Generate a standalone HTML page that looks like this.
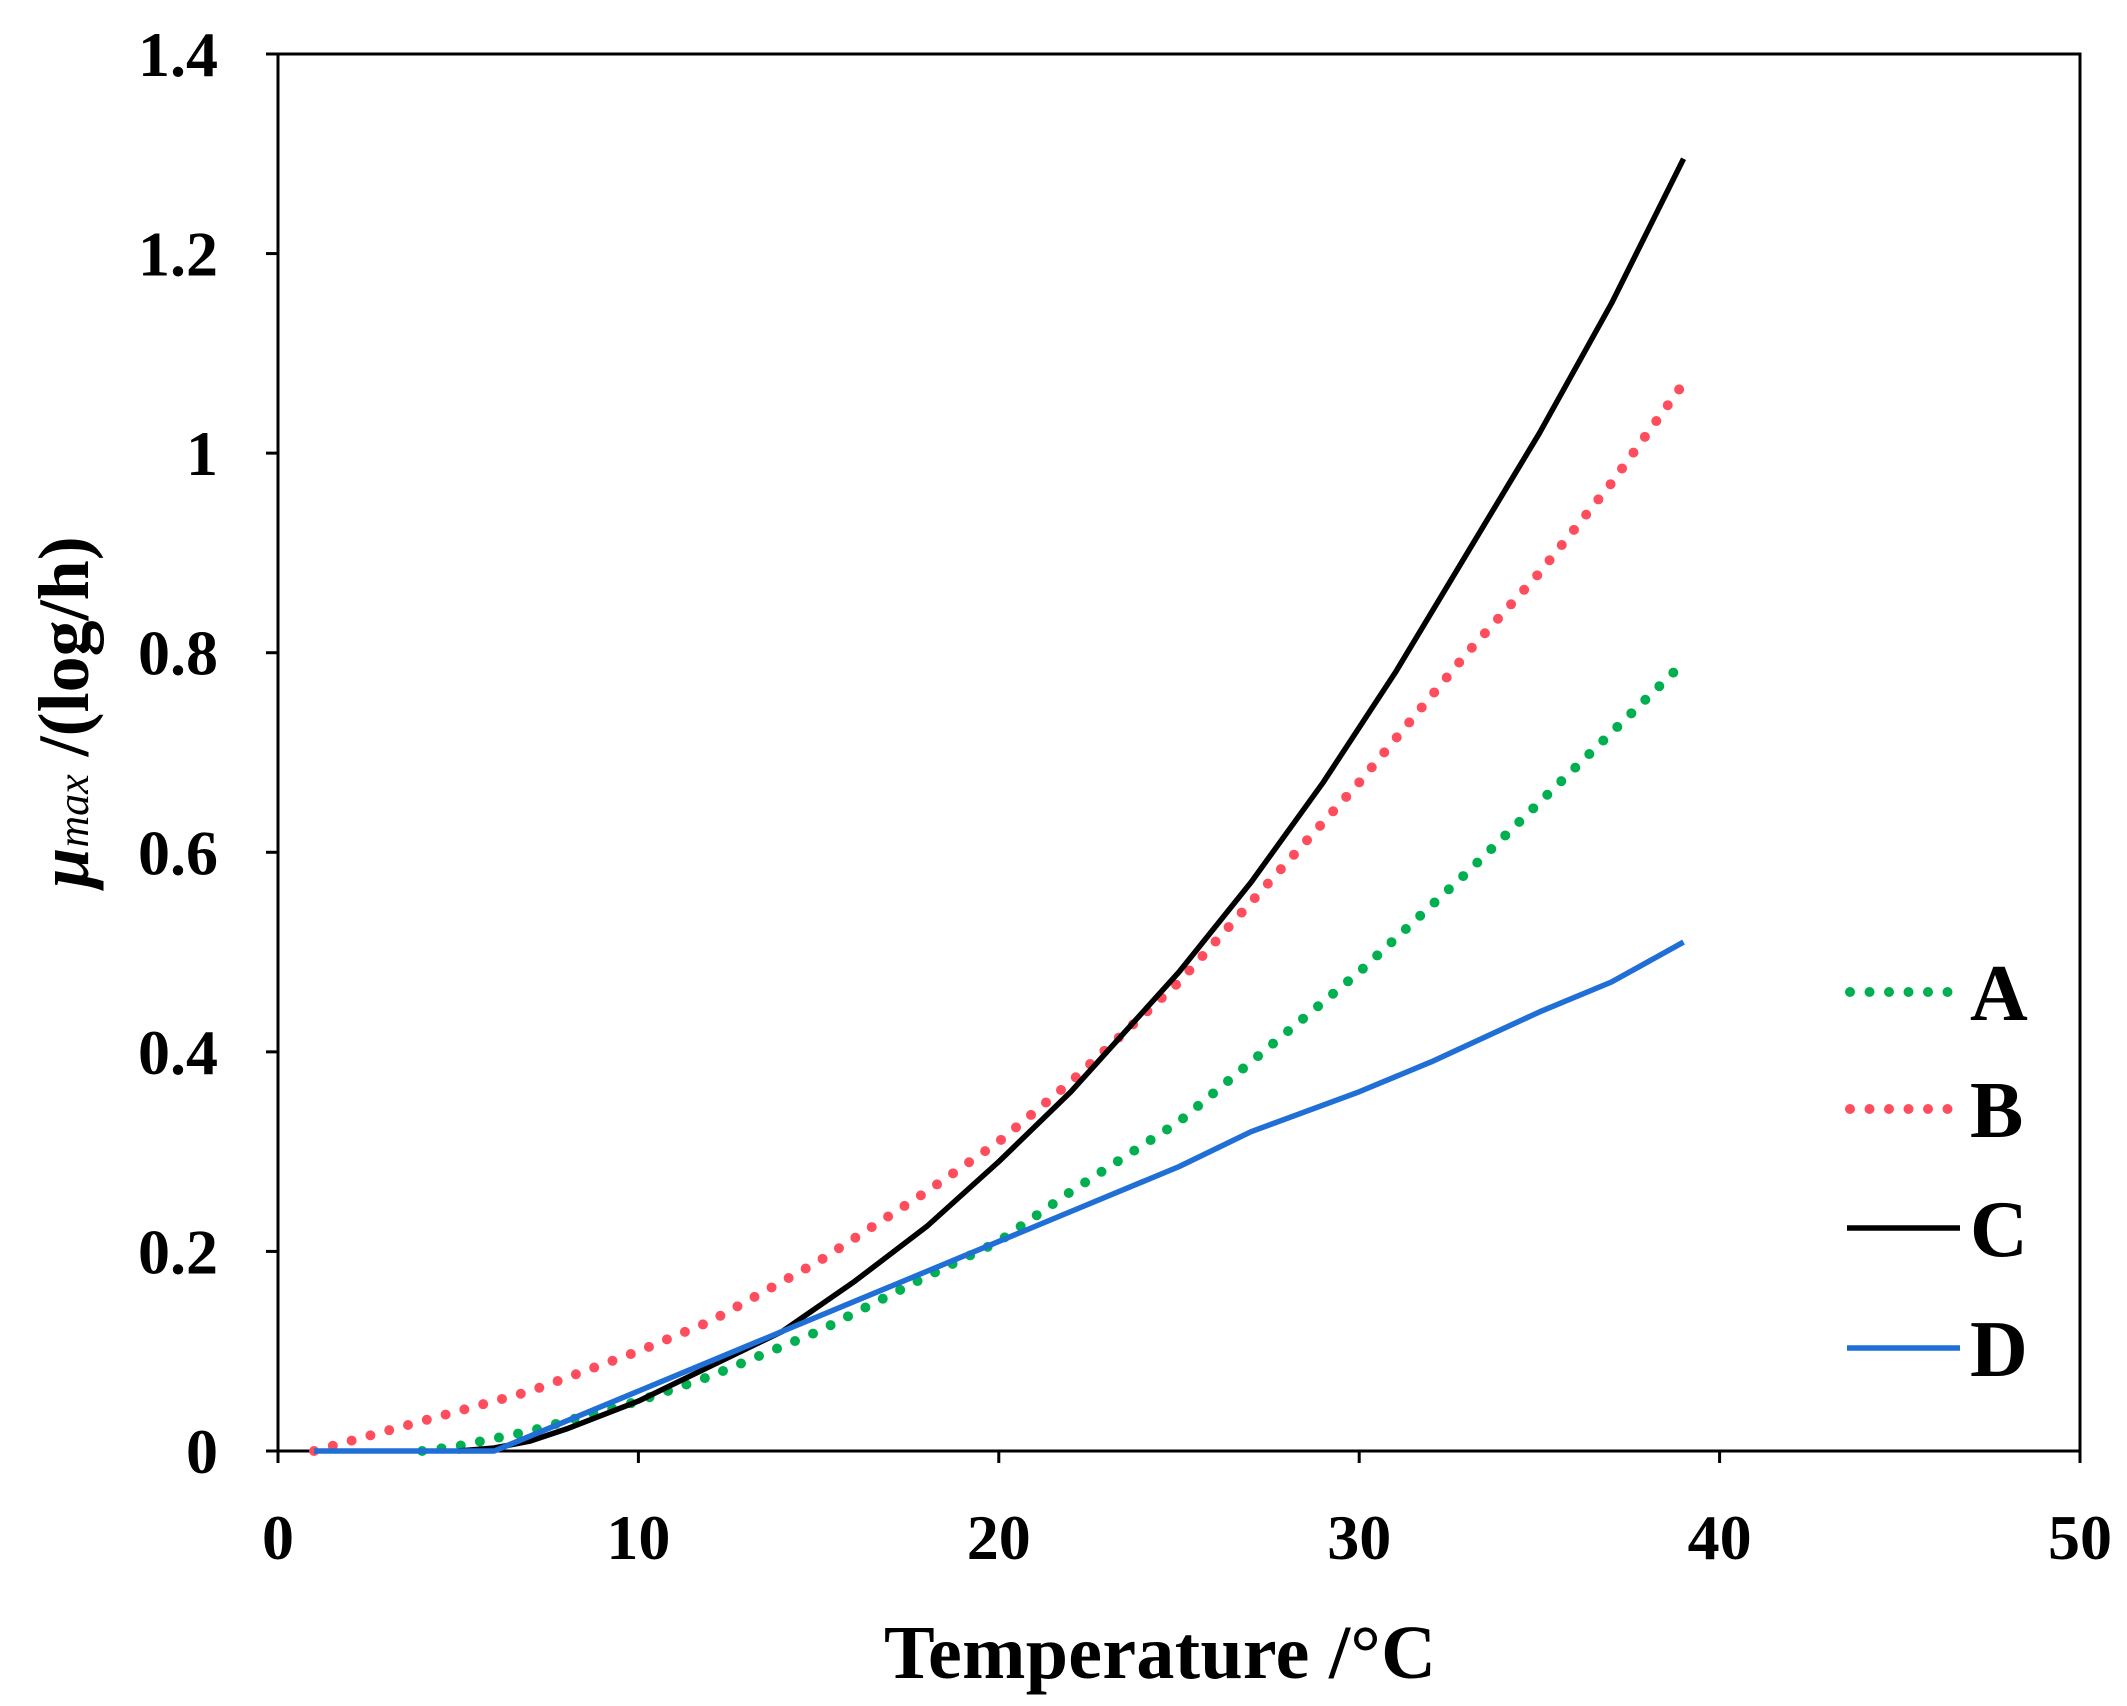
<!DOCTYPE html>
<html><head><meta charset="utf-8"><style>
html,body{margin:0;padding:0;background:#fff;}
svg{display:block;}
text{font-family:"Liberation Serif",serif;font-weight:bold;fill:#000;}
</style></head><body>
<svg id="chart" width="2127" height="1706" viewBox="0 0 2127 1706">
<rect x="278" y="54" width="1802" height="1397" fill="none" stroke="#000" stroke-width="3"/>
<g id="ticks"></g>
<g id="series"></g>
<text x="1160" y="1678" font-size="76" text-anchor="middle" textLength="552">Temperature /°C</text>
<text transform="translate(88,712) rotate(-90)" font-size="72" text-anchor="middle"><tspan font-style="italic">μ</tspan><tspan font-style="italic" font-weight="normal" font-size="44">max</tspan> /(log/h)</text>
<g>
<line x1="1850" y1="992" x2="1958" y2="992" stroke="#00b050" stroke-width="10" stroke-linecap="round" stroke-dasharray="0 19.5"/>
<text x="1970" y="1020" font-size="80">A</text>
<line x1="1850" y1="1109" x2="1958" y2="1109" stroke="#ff4d5e" stroke-width="10" stroke-linecap="round" stroke-dasharray="0 19.5"/>
<text x="1970" y="1137" font-size="80">B</text>
<line x1="1847" y1="1228" x2="1960" y2="1228" stroke="#000" stroke-width="5.5"/>
<text x="1970" y="1256" font-size="80">C</text>
<line x1="1847" y1="1348" x2="1960" y2="1348" stroke="#1f6fd6" stroke-width="5.5"/>
<text x="1970" y="1376" font-size="80">D</text>
</g>
</svg>
<script>
const xTicks = [0,10,20,30,40,50];
const yTicks = [0,0.2,0.4,0.6,0.8,1,1.2,1.4];
const yTickLabels = ["0","0.2","0.4","0.6","0.8","1","1.2","1.4"];
const tempsA = [4,5,7,10,12,15,18,20,22,25,28,30,33,35,37,39];
const valuesA = [0,0.005,0.02,0.05,0.075,0.12,0.175,0.21,0.26,0.33,0.42,0.48,0.58,0.65,0.72,0.79];
const tempsB = [1,3,5,7,10,12,15,18,20,22,25,28,30,33,35,37,39];
const valuesB = [0,0.02,0.04,0.06,0.1,0.13,0.19,0.26,0.31,0.37,0.47,0.59,0.67,0.8,0.88,0.97,1.07];
const tempsC = [5,6,7,8,10,12,14,16,18,20,22,24,25,27,29,31,33,35,37,39];
const valuesC = [0,0.003,0.01,0.022,0.05,0.085,0.12,0.17,0.225,0.29,0.36,0.44,0.48,0.57,0.67,0.78,0.9,1.02,1.15,1.295];
const tempsD = [1,4,6,8,10,12,14,16,18,20,22,24,25,27,30,32,35,37,39];
const valuesD = [0,0,0,0.03,0.06,0.09,0.12,0.15,0.18,0.21,0.24,0.27,0.285,0.32,0.36,0.39,0.44,0.47,0.51];
const NS='http://www.w3.org/2000/svg';
const X0=278,X1=2080,Y0=1451,Y1=54;
function xs(v){return X0+(X1-X0)*v/50;}
function ys(v){return Y0-(Y0-Y1)*v/1.4;}
const tg=document.getElementById('ticks');
xTicks.forEach(t=>{
  const l=document.createElementNS(NS,'line');
  l.setAttribute('x1',xs(t));l.setAttribute('x2',xs(t));l.setAttribute('y1',Y0);l.setAttribute('y2',Y0+12);
  l.setAttribute('stroke','#000');l.setAttribute('stroke-width','3');
  
  
  tg.appendChild(l);
  const tx=document.createElementNS(NS,'text');
  tx.setAttribute('x',xs(t));tx.setAttribute('y',1559);tx.setAttribute('font-size','64');tx.setAttribute('text-anchor','middle');
  tx.textContent=String(t);
  
  
  tg.appendChild(tx);
});
yTicks.forEach((t,i)=>{
  const l=document.createElementNS(NS,'line');
  l.setAttribute('x1',X0-12);l.setAttribute('x2',X0);l.setAttribute('y1',ys(t));l.setAttribute('y2',ys(t));
  l.setAttribute('stroke','#000');l.setAttribute('stroke-width','3');
  
  
  tg.appendChild(l);
  const tx=document.createElementNS(NS,'text');
  tx.setAttribute('x',218);tx.setAttribute('y',ys(t)+22);tx.setAttribute('font-size','64');tx.setAttribute('text-anchor','end');
  tx.textContent=yTickLabels[i];
  
  
  tg.appendChild(tx);
});
const sg=document.getElementById('series');
function draw(xsArr,vs,color,dotted,name){
  const p=document.createElementNS(NS,'polyline');
  p.setAttribute('points',xsArr.map((x,i)=>xs(x)+','+ys(vs[i])).join(' '));
  p.setAttribute('fill','none');p.setAttribute('stroke',color);
  if(dotted){p.setAttribute('stroke-width','10');p.setAttribute('stroke-linecap','round');p.setAttribute('stroke-dasharray','0 19.5');}
  else{p.setAttribute('stroke-width','5.5');p.setAttribute('stroke-linejoin','round');}
  
  
  sg.appendChild(p);
}
draw(tempsB,valuesB,'#ff4d5e',true,'series-b');
draw(tempsA,valuesA,'#00b050',true,'series-a');
draw(tempsC,valuesC,'#000',false,'series-c');
draw(tempsD,valuesD,'#1f6fd6',false,'series-d');
</script>
</body></html>
